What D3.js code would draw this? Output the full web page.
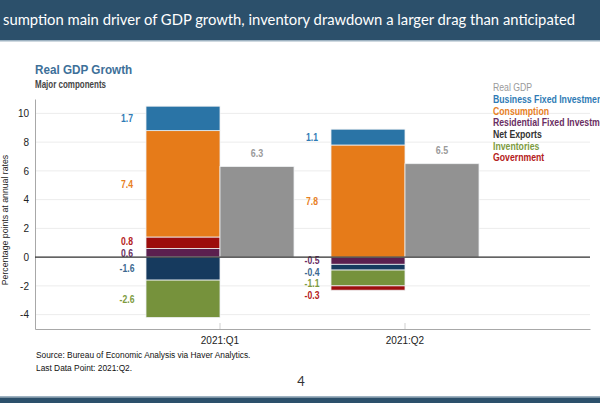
<!DOCTYPE html>
<html>
<head>
<meta charset="utf-8">
<script src="https://cdn.jsdelivr.net/npm/d3@7"></script>
<style>
  body { margin: 0; background: #fff; }
  svg { display: block; }
  text { font-family: "Liberation Sans", Arial, sans-serif; }
</style>
</head>
<body>
<svg id="vis" width="600" height="403"></svg>
<script>
// quarters on the x axis
const categories = ["2021:Q1", "2021:Q2"];

// contributions to real GDP growth, percentage points (annual rate)
const residential = [0.6, -0.5];
const netExports  = [-1.6, -0.4];
const inventories = [-2.6, -1.1];
const government  = [0.8, -0.3];
const consumption = [7.4, 7.8];
const businessFixed = [1.7, 1.1];
const realGDP = [6.3, 6.5];

// stacking order (bottom to top on each side of zero)
const stackKeys = ["Residential Fixed Investment", "Net Exports", "Inventories",
                   "Government", "Consumption", "Business Fixed Investment"];
const legendNames = ["Real GDP", "Business Fixed Investment", "Consumption",
                     "Residential Fixed Investment", "Net Exports", "Inventories", "Government"];
const yTicks = [-4, -2, 0, 2, 4, 6, 8, 10];

const fills = {
  "Real GDP": "#929292",
  "Business Fixed Investment": "#2a74a6",
  "Consumption": "#e67b19",
  "Residential Fixed Investment": "#5b1f4f",
  "Net Exports": "#163a5e",
  "Inventories": "#76923c",
  "Government": "#9c0d0d"
};
const textColors = {
  "Real GDP": "#9a9a9a",
  "Business Fixed Investment": "#2f7bb5",
  "Consumption": "#e8801f",
  "Residential Fixed Investment": "#6a2e63",
  "Net Exports": "#3b6890",
  "Inventories": "#7d9b3e",
  "Government": "#b42020"
};

const rows = categories.map((c, i) => ({
  cat: c,
  "Residential Fixed Investment": residential[i],
  "Net Exports": netExports[i],
  "Inventories": inventories[i],
  "Government": government[i],
  "Consumption": consumption[i],
  "Business Fixed Investment": businessFixed[i],
  "Real GDP": realGDP[i]
}));

const fmt = v => v.toFixed(1);

// no narrow font installed, so squeeze text horizontally
function narrow(sel, k) {
  sel.each(function() {
    const t = d3.select(this);
    const x = +t.attr("x") || 0, y = +t.attr("y") || 0;
    t.attr("x", 0).attr("y", 0)
     .attr("transform", `translate(${x},${y}) scale(${k},1)`);
  });
}

const svg = d3.select("#vis");
const W = 600, H = 403;
const margin = {left: 35, right: 10, top: 99, bottom: 74};

// header / footer bands
svg.append("rect").attr("x", 0).attr("y", 0).attr("width", W).attr("height", 40).attr("fill", "#2c506b");
svg.append("rect").attr("x", 0).attr("y", 40).attr("width", W).attr("height", 1.5).attr("fill", "#9fb3c2");
svg.append("text")
  .attr("x", 3).attr("y", 25)
  .attr("fill", "#fff")
  .attr("textLength", 572)
  .attr("lengthAdjust", "spacingAndGlyphs")
  .style("font-family", "Lato, 'Open Sans', sans-serif")
  .style("font-size", "15px")
  .text("sumption main driver of GDP growth, inventory drawdown a larger drag than anticipated");

svg.append("rect").attr("x", 0).attr("y", 396).attr("width", W).attr("height", 1.5).attr("fill", "#9fb3c2");
svg.append("rect").attr("x", 0).attr("y", 397.5).attr("width", W).attr("height", 6).attr("fill", "#2c506b");

const x0 = d3.scaleBand()
  .domain(categories)
  .range([margin.left, W - margin.right])
  .paddingInner(0.2)
  .paddingOuter(0.6);

const x1 = d3.scaleBand()
  .domain(["stack", "gdp"])
  .range([0, x0.bandwidth()]);

const y = d3.scaleLinear()
  .domain([-5, 11])
  .range([H - margin.bottom, margin.top]);

// gridlines
svg.append("g")
  .selectAll("line")
  .data(yTicks)
  .join("line")
  .attr("x1", margin.left).attr("x2", W - margin.right)
  .attr("y1", d => y(d)).attr("y2", d => y(d))
  .attr("stroke", "#ececec")
  .attr("stroke-width", 1);

// y axis
const yAxis = svg.append("g")
  .attr("transform", `translate(${margin.left},0)`)
  .call(d3.axisLeft(y).tickValues(yTicks).tickSize(0).tickPadding(6).tickFormat(d => String(d)));
yAxis.select(".domain").attr("stroke", "#a8a8a8");
yAxis.selectAll("text").style("font-size", "10px").attr("fill", "#222");

// stacked components
const series = d3.stack().keys(stackKeys).offset(d3.stackOffsetDiverging)(rows);

svg.append("g")
  .selectAll("g")
  .data(series)
  .join("g")
  .attr("fill", d => fills[d.key])
  .selectAll("rect")
  .data(d => d)
  .join("rect")
  .attr("x", d => x0(d.data.cat) + x1("stack"))
  .attr("y", d => y(Math.max(d[0], d[1])))
  .attr("width", x1.bandwidth())
  .attr("height", d => Math.abs(y(d[0]) - y(d[1])))
  .attr("stroke", "#eef0f2")
  .attr("stroke-width", 0.8);

// real GDP bars
svg.append("g")
  .selectAll("rect")
  .data(rows)
  .join("rect")
  .attr("x", d => x0(d.cat) + x1("gdp"))
  .attr("y", d => y(d["Real GDP"]))
  .attr("width", x1.bandwidth())
  .attr("height", d => y(0) - y(d["Real GDP"]))
  .attr("fill", fills["Real GDP"])
  .attr("stroke", "#eef0f2")
  .attr("stroke-width", 0.8);

svg.append("g")
  .selectAll("text")
  .data(rows)
  .join("text")
  .attr("x", d => x0(d.cat) + x1("gdp") + x1.bandwidth() / 2)
  .attr("y", d => y(d["Real GDP"]) - 13)
  .attr("dy", "0.35em")
  .attr("text-anchor", "middle")
  .attr("fill", textColors["Real GDP"])
  .style("font-size", "10.5px")
  .style("font-weight", "bold")
  .text(d => fmt(d["Real GDP"]))
  .call(narrow, 0.85);

// component value labels, left of each stack, pushed away from zero when crowded
const labels = [];
series.forEach(s => s.forEach(d => {
  labels.push({
    key: s.key,
    cat: d.data.cat,
    value: d.data[s.key],
    cy: (y(d[0]) + y(d[1])) / 2
  });
}));
const gap = 11.5;
categories.forEach(c => {
  const pos = labels.filter(l => l.cat === c && l.value > 0).sort((a, b) => b.cy - a.cy);
  for (let i = 1; i < pos.length; i++) {
    if (pos[i].cy > pos[i - 1].cy - gap) pos[i].cy = pos[i - 1].cy - gap;
  }
  const neg = labels.filter(l => l.cat === c && l.value < 0).sort((a, b) => a.cy - b.cy);
  for (let i = 1; i < neg.length; i++) {
    if (neg[i].cy < neg[i - 1].cy + gap) neg[i].cy = neg[i - 1].cy + gap;
  }
});

svg.append("g")
  .selectAll("text")
  .data(labels)
  .join("text")
  .attr("x", d => x0(d.cat) - 19)
  .attr("y", d => d.cy)
  .attr("dy", "0.35em")
  .attr("text-anchor", "middle")
  .attr("fill", d => textColors[d.key])
  .style("font-size", "10.5px")
  .style("font-weight", "bold")
  .text(d => fmt(d.value))
  .call(narrow, 0.82);

// zero line
svg.append("line")
  .attr("x1", margin.left).attr("x2", W - margin.right)
  .attr("y1", y(0)).attr("y2", y(0))
  .attr("stroke", "#333").attr("stroke-width", 1.3);

// x axis
const xAxis = svg.append("g")
  .attr("transform", `translate(0,${H - margin.bottom})`)
  .call(d3.axisBottom(x0).tickSize(0).tickPadding(8));
xAxis.select(".domain").attr("stroke", "#a8a8a8").attr("stroke-width", 1.2);
xAxis.selectAll("text").style("font-size", "10px").attr("fill", "#222");
xAxis.selectAll(".tick").append("line")
  .attr("y1", 0).attr("y2", -6)
  .attr("stroke", "#cfcfcf");

// axis title
svg.append("text")
  .attr("transform", `translate(8,${(y(-5) + y(11)) / 2 + 6}) rotate(-90) scale(0.92,1)`)
  .attr("text-anchor", "middle")
  .attr("fill", "#222")
  .style("font-size", "9.5px")
  .text("Percentage points at annual rates");

// chart titles
svg.append("text")
  .attr("x", 35).attr("y", 74)
  .attr("fill", "#3d7099")
  .style("font-size", "13px")
  .style("font-weight", "bold")
  .text("Real GDP Growth")
  .call(narrow, 0.9);
svg.append("text")
  .attr("x", 35).attr("y", 88)
  .attr("fill", "#444")
  .style("font-size", "10px")
  .style("font-weight", "bold")
  .text("Major components")
  .call(narrow, 0.8);

// legend
svg.append("g")
  .selectAll("text")
  .data(legendNames)
  .join("text")
  .attr("x", 493)
  .attr("y", (d, i) => 87.5 + i * 11.7)
  .attr("dy", "0.35em")
  .attr("fill", d => d === "Net Exports" ? "#333" : textColors[d])
  .style("font-size", "10.5px")
  .style("font-weight", d => d === "Real GDP" ? "normal" : "bold")
  .text(d => d)
  .call(narrow, 0.83);

// source notes
svg.append("text")
  .attr("x", 36).attr("y", 358)
  .attr("fill", "#111")
  .style("font-size", "9.5px")
  .text("Source: Bureau of Economic Analysis via Haver Analytics.")
  .call(narrow, 0.88);
svg.append("text")
  .attr("x", 36).attr("y", 371)
  .attr("fill", "#111")
  .style("font-size", "9.5px")
  .text("Last Data Point: 2021:Q2.")
  .call(narrow, 0.88);

// page number
svg.append("text")
  .attr("x", 301).attr("y", 386)
  .attr("text-anchor", "middle")
  .attr("fill", "#333")
  .style("font-family", "Lato, sans-serif")
  .style("font-size", "13px")
  .text("4");
</script>
</body>
</html>
